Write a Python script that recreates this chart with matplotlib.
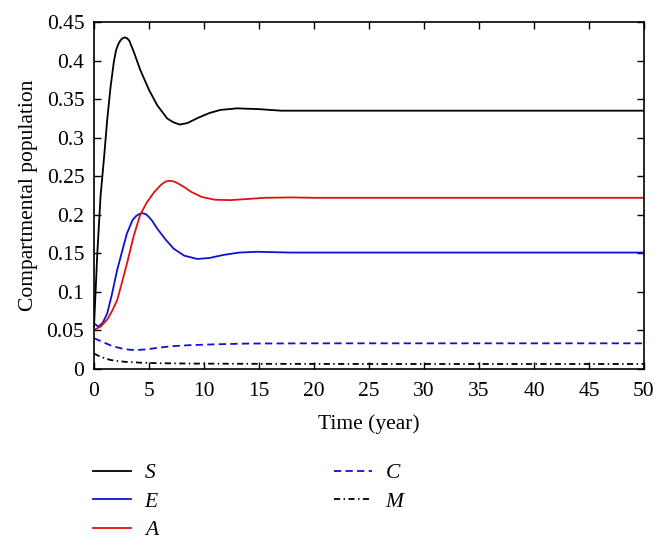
import numpy as np
import matplotlib.pyplot as plt

# ---------------------------------------------------------
# data (time in years)
# ---------------------------------------------------------
T_S = [0, 0.3, 0.6, 0.9, 1.2, 1.5, 1.8, 2.0, 2.2, 2.4, 2.6, 2.8, 3.0, 3.2, 3.6, 4.2, 5.0, 5.75,
       6.65, 7.2, 7.8, 8.5, 9.5, 10.5, 11.5, 13, 15, 17, 20, 30, 40, 50]
S = [0.055, 0.15, 0.225, 0.272, 0.323, 0.365, 0.398, 0.413, 0.421, 0.426, 0.429, 0.430, 0.429, 0.426, 0.412, 0.388, 0.362, 0.342,
     0.325, 0.320, 0.317, 0.319, 0.326, 0.332, 0.336, 0.338, 0.337, 0.335, 0.335, 0.335, 0.335, 0.335]

T_E = [0, 0.4, 0.8, 1.2, 1.6, 2.1, 2.6, 3.0, 3.5, 3.8, 4.1, 4.4, 4.7, 5.0, 5.3, 5.75, 6.5,
       7.25, 8.2, 9.4, 10.5, 11.8, 13.2, 14.8, 17.9, 20, 30, 40, 50]
E = [0.059, 0.055, 0.060, 0.072, 0.095, 0.128, 0.155, 0.176, 0.193, 0.198, 0.201, 0.202, 0.201, 0.197, 0.192, 0.182, 0.168,
     0.156, 0.147, 0.1427, 0.144, 0.148, 0.151, 0.152, 0.151, 0.151, 0.151, 0.151, 0.151]

T_A = [0, 0.6, 1.2, 1.6, 2.1, 2.5, 3.0, 3.6, 4.2, 4.8, 5.45, 6.1, 6.5, 6.8, 7.2, 7.6, 8.2,
       8.8, 9.8, 11.0, 12.4, 14.0, 15.5, 17.9, 20, 30, 40, 50]
A = [0.0506, 0.055, 0.064, 0.074, 0.089, 0.110, 0.137, 0.172, 0.200, 0.216, 0.229, 0.239, 0.243, 0.244, 0.2435, 0.241, 0.236,
     0.230, 0.223, 0.2195, 0.219, 0.2205, 0.222, 0.2225, 0.222, 0.222, 0.222, 0.222]

T_C = [0, 0.8, 1.6, 2.4, 3.2, 3.9, 4.8, 5.8, 7.0, 8.8, 11, 14, 20, 30, 40, 50]
C = [0.040, 0.035, 0.030, 0.027, 0.025, 0.0246, 0.0255, 0.0275, 0.0295, 0.031, 0.032, 0.033, 0.0333, 0.0333, 0.0333, 0.0333]

T_M = [0, 0.5, 1.0, 1.5, 2.2, 3.0, 4.2, 6, 9, 15, 20, 30, 40, 50]
M = [0.020, 0.0165, 0.0138, 0.0117, 0.0102, 0.0091, 0.0082, 0.0075, 0.0070, 0.0067, 0.0066, 0.0065, 0.0065, 0.0065]

X_TICKS = list(range(0, 51, 5))
Y_TICKS = [0, 0.05, 0.1, 0.15, 0.2, 0.25, 0.3, 0.35, 0.4, 0.45]
Y_LABELS = ["0", "0.05", "0.1", "0.15", "0.2", "0.25", "0.3", "0.35", "0.4", "0.45"]

plt.rcParams['font.family'] = ['Liberation Serif', 'DejaVu Serif']
plt.rcParams['font.size'] = 15.5
plt.rcParams['mathtext.fontset'] = 'custom'
plt.rcParams['mathtext.it'] = 'Liberation Serif:italic'

fig = plt.figure(figsize=(6.68, 5.46), dpi=100)
ax = fig.add_axes([94 / 668, 1 - 369 / 546, 550 / 668, 347 / 546])

lw = 1.3
ax.plot(T_S, S, color='black', lw=lw, label='$S$')
ax.plot(T_E, E, color='#1010d0', lw=lw, label='$E$')
ax.plot(T_A, A, color='#e01010', lw=lw, label='$A$')
ax.plot(T_C, C, color='#1010d0', lw=lw, ls=(0, (4.0, 2.4)), label='$C$')
ax.plot(T_M, M, color='black', lw=lw, ls=(0, (3.4, 1.9, 0.8, 1.9)), label='$M$')

ax.set_xlim(0, 50)
ax.set_ylim(0, 0.45)
ax.set_xticks(X_TICKS)
ax.set_yticks(Y_TICKS)
ax.set_yticklabels(Y_LABELS)
ax.tick_params(direction='in', top=True, right=True, length=5, width=1.0)
ax.tick_params(axis='x', pad=9)
ax.tick_params(axis='y', pad=7)
for sp in ax.spines.values():
    sp.set_linewidth(1.2)

ax.set_xlabel("Time (year)", labelpad=10)
ax.set_ylabel("Compartmental population", labelpad=6)

fig.legend(loc='upper left', bbox_to_anchor=(93 / 668, 1 - 463 / 546), ncol=2,
           frameon=False, borderpad=0, borderaxespad=0, handlelength=1.75,
           handletextpad=0.6, columnspacing=8.1, labelspacing=0.4)

fig.savefig("out.png", dpi=100)
